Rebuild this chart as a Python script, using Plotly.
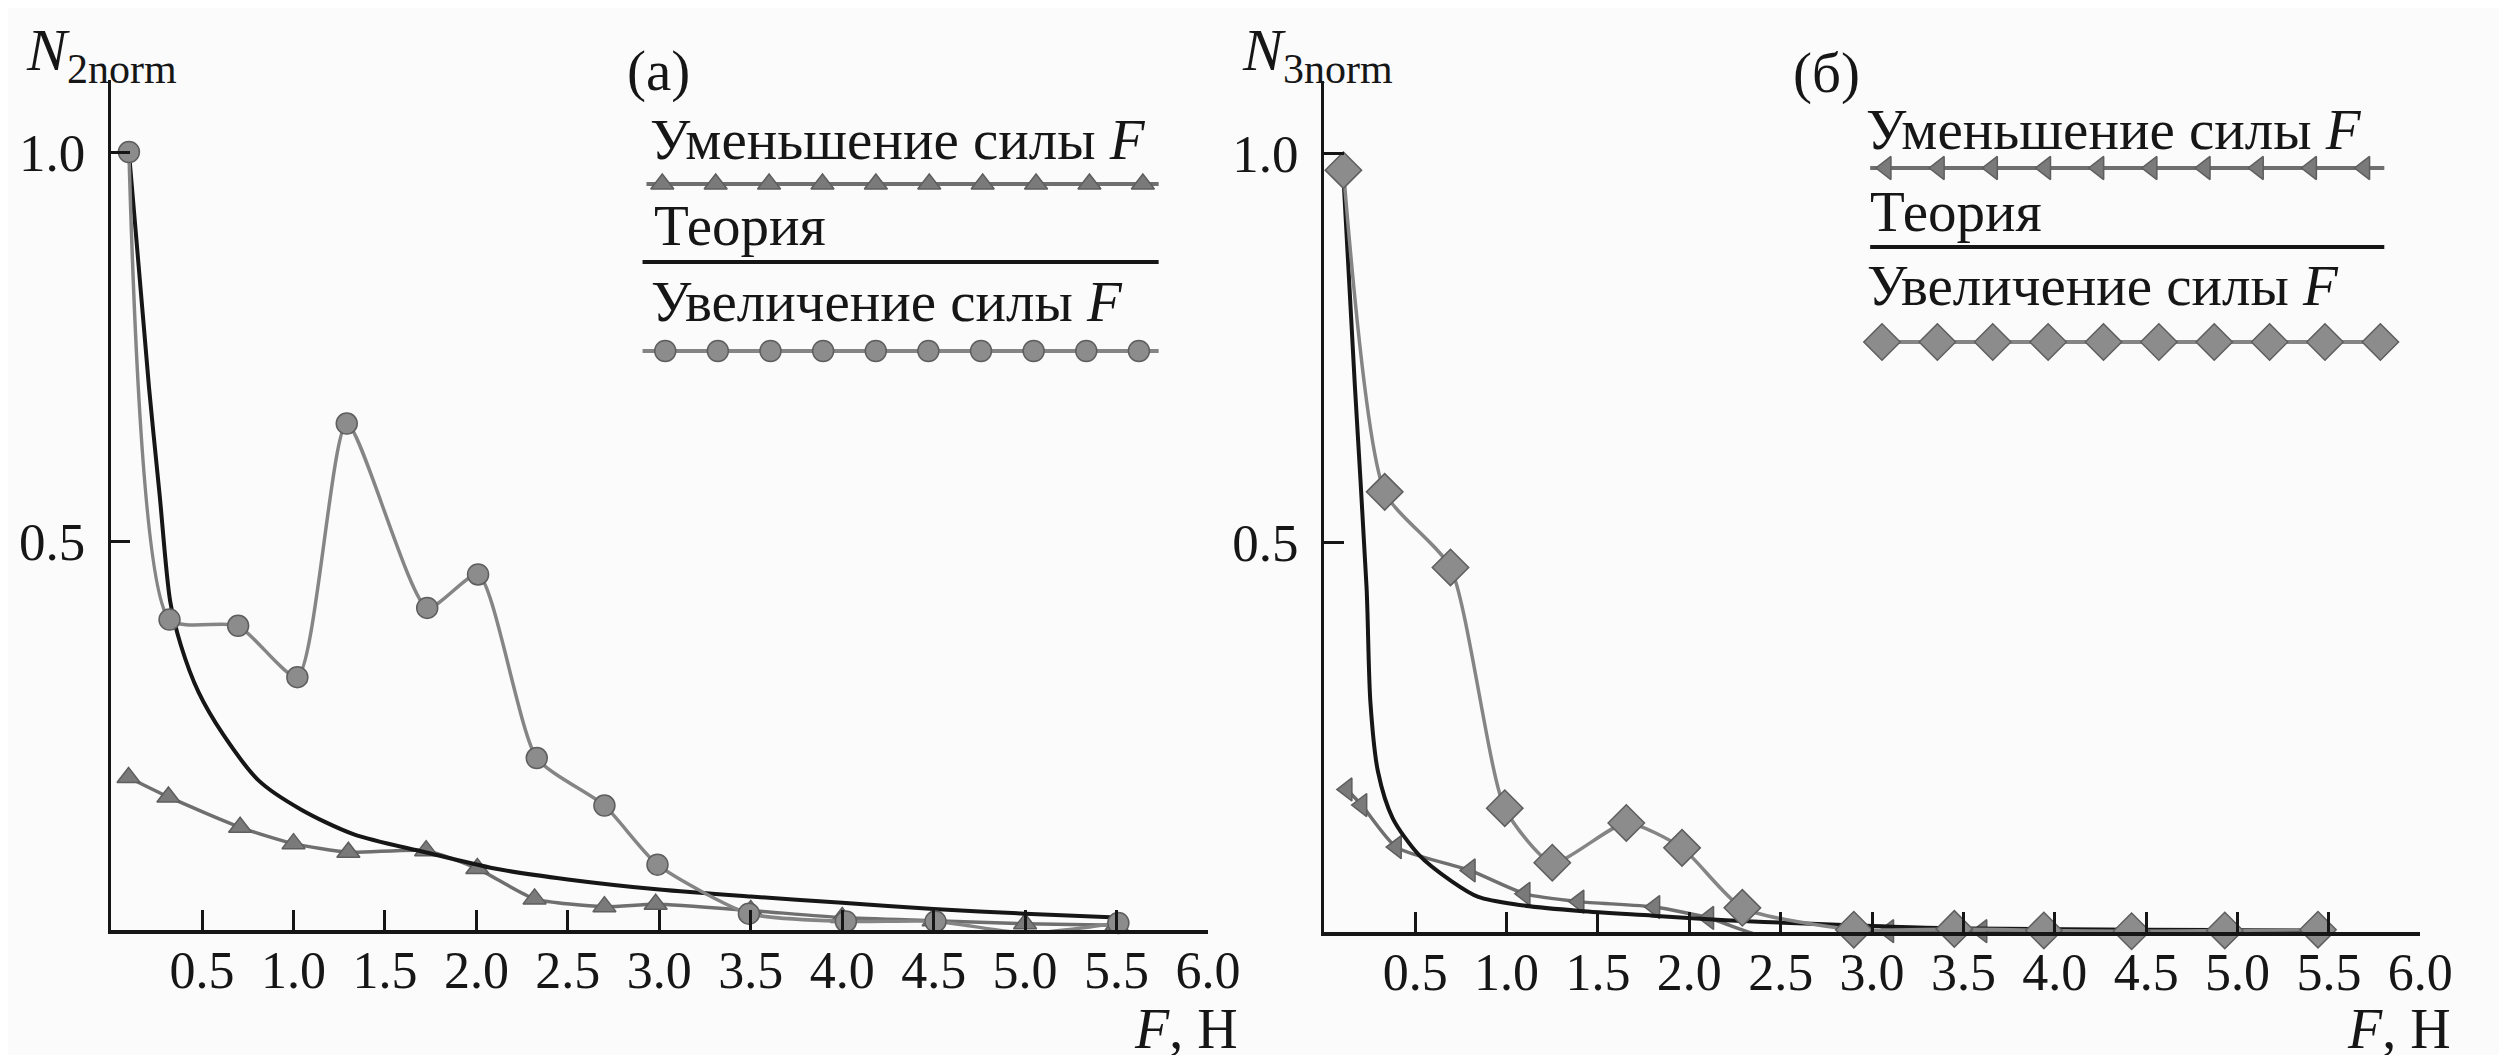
import numpy as np
import plotly.graph_objects as go

# ---------------- data ----------------
# Panel (a): N2norm
a_inc_x = [0.10, 0.322, 0.697, 1.021, 1.291, 1.731, 2.009, 2.33, 2.70, 2.99, 3.49, 4.02, 4.51, 5.01, 5.51]
a_inc_y = [1.00, 0.399, 0.391, 0.325, 0.651, 0.414, 0.457, 0.221, 0.160, 0.084, 0.021, 0.011, 0.011, -0.004, 0.009]

a_dec_x = [0.098, 0.316, 0.708, 1.00, 1.30, 1.725, 2.005, 2.318, 2.70, 2.98, 3.5, 4.0, 4.5, 5.0, 5.5]
a_dec_y = [0.196, 0.171, 0.132, 0.111, 0.100, 0.102, 0.079, 0.040, 0.030, 0.033, 0.025, 0.016, 0.012, 0.008, 0.006]

a_th_x = [0.10, 0.21, 0.268, 0.326, 0.384, 0.48, 0.616, 0.81, 1.04, 1.33, 1.72, 2.10, 2.50, 3.0, 3.5, 4.0, 4.5, 5.0, 5.5]
a_th_y = [1.00, 0.697, 0.559, 0.422, 0.366, 0.306, 0.251, 0.192, 0.155, 0.123, 0.100, 0.079, 0.065, 0.052, 0.043, 0.035, 0.027, 0.021, 0.016]

# Panel (б): N3norm
b_inc_x = [0.107, 0.333, 0.693, 0.99, 1.25, 1.655, 1.96, 2.29, 2.90, 3.45, 3.94, 4.42, 4.93, 5.44]
b_inc_y = [0.978, 0.565, 0.468, 0.159, 0.089, 0.140, 0.108, 0.031, 0.003, 0.004, 0.002, 0.001, 0.002, 0.003]

b_dec_x = [0.126, 0.207, 0.396, 0.80, 1.10, 1.395, 1.81, 2.105, 2.44, 2.78, 3.09, 3.60, 4.05, 4.53]
b_dec_y = [0.183, 0.163, 0.109, 0.079, 0.049, 0.039, 0.032, 0.018, -0.008, -0.003, 0.001, 0.001, -0.001, -0.001]

b_th_x = [0.107, 0.17, 0.234, 0.255, 0.296, 0.377, 0.52, 0.70, 0.845, 1.06, 1.4, 1.8, 2.2, 2.5, 3.4, 4.5, 5.5]
b_th_y = [0.970, 0.700, 0.441, 0.294, 0.206, 0.146, 0.099, 0.065, 0.045, 0.035, 0.027, 0.021, 0.015, 0.012, 0.005, 0.003, 0.002]

x_ticks = [0.5, 1.0, 1.5, 2.0, 2.5, 3.0, 3.5, 4.0, 4.5, 5.0, 5.5, 6.0]
y_ticks = [0.5, 1.0]

# ---------------- styling ----------------
W, H = 2507, 1055
FONT = "Liberation Serif"
INK = "#161616"
GREY_LINE = "#858585"
GREY_DARK = "#6f6f6f"
MK_FILL = "#8c8c8c"
MK_EDGE = "#5e5e5e"

fig = go.Figure()

def series(x, y, xa, ya, symbol, size, lc, mfill):
    fig.add_trace(go.Scatter(
        x=x, y=y, xaxis=xa, yaxis=ya, mode="lines+markers",
        line=dict(color=lc, width=3.5, shape="spline", smoothing=0.6),
        marker=dict(symbol=symbol, size=size, color=mfill, line=dict(color=MK_EDGE, width=1.5)),
        cliponaxis=False, showlegend=False, hoverinfo="skip"))

def theory(x, y, xa, ya):
    fig.add_trace(go.Scatter(
        x=x, y=y, xaxis=xa, yaxis=ya, mode="lines",
        line=dict(color=INK, width=4, shape="spline", smoothing=0.8),
        cliponaxis=False, showlegend=False, hoverinfo="skip"))

# panel (a)
series(a_dec_x, a_dec_y, "x", "y", "triangle-up", 20, GREY_DARK, "#7a7a7a")
theory(a_th_x, a_th_y, "x", "y")
series(a_inc_x, a_inc_y, "x", "y", "circle", 21, GREY_LINE, MK_FILL)
# panel (б)
series(b_dec_x, b_dec_y, "x2", "y2", "triangle-left", 20, GREY_DARK, "#7a7a7a")
theory(b_th_x, b_th_y, "x2", "y2")
series(b_inc_x, b_inc_y, "x2", "y2", "diamond", 28, GREY_LINE, MK_FILL)

# ---------------- custom legends (pixel overlay axis) ----------------
def leg_line(x0, x1, y, color, width, symbol=None, size=0, m0=None, m1=None, mfill=None):
    fig.add_trace(go.Scatter(x=[x0, x1], y=[y, y], xaxis="x3", yaxis="y3", mode="lines",
                             line=dict(color=color, width=width), showlegend=False, hoverinfo="skip"))
    if symbol:
        xs = np.linspace(m0, m1, 10)
        fig.add_trace(go.Scatter(x=xs, y=[y] * 10, xaxis="x3", yaxis="y3", mode="markers",
                                 marker=dict(symbol=symbol, size=size, color=mfill,
                                             line=dict(color=MK_EDGE, width=1.5)),
                                 showlegend=False, hoverinfo="skip"))

leg_line(647, 1166, 176, GREY_DARK, 4, "triangle-up", 20, 663, 1150, "#7a7a7a")
leg_line(643, 1166, 254, INK, 4)
leg_line(643, 1166, 343, GREY_LINE, 4, "circle", 21, 666, 1146, MK_FILL)

leg_line(1887, 2408, 160, GREY_DARK, 4, "triangle-left", 20, 1903, 2388, "#7a7a7a")
leg_line(1887, 2408, 239, INK, 4)
leg_line(1891, 2416, 334, GREY_LINE, 4, "diamond", 28, 1899, 2404, MK_FILL)

ann = []
def txt(x, y, s, size=57, xanchor="left", yanchor="middle"):
    ann.append(dict(x=x, y=y, xref="x3", yref="y3", text=s, showarrow=False,
                    xanchor=xanchor, yanchor=yanchor,
                    font=dict(family=FONT, size=size, color=INK)))

txt(649, 131, "Уменьшение силы <i>F</i>")
txt(653, 217, "Теория")
txt(650, 293, "Увеличение силы <i>F</i>")
txt(1881, 121, "Уменьшение силы <i>F</i>")
txt(1885, 203, "Теория")
txt(1882, 277, "Увеличение силы <i>F</i>")

txt(659, 63, "(а)", xanchor="center")
txt(1843, 65, "(б)", xanchor="center")

txt(16, 46, "<i>N</i><sub>2norm</sub>", size=60)
txt(1248, 46, "<i>N</i><sub>3norm</sub>", size=60)

txt(1248, 1054, "<i>F</i>, Н", size=56, xanchor="right", yanchor="bottom")
txt(2478, 1054, "<i>F</i>, Н", size=56, xanchor="right", yanchor="bottom")

# ---------------- axes ----------------
def xaxis(d0, d1, anchor):
    return dict(domain=[d0 / W, d1 / W], range=[0, 6], anchor=anchor,
                showline=True, linecolor=INK, linewidth=3.5, mirror=False,
                showgrid=False, zeroline=False,
                tickvals=x_ticks, ticktext=[f"{v:.1f}" for v in x_ticks],
                ticks="inside", ticklen=20, tickwidth=2.5, tickcolor=INK,
                ticklabelstandoff=-8,
                tickfont=dict(family=FONT, size=52, color=INK), fixedrange=True)

def yaxis(ptop, y0px, perunit, anchor):
    top_val = (y0px - ptop) / perunit
    return dict(domain=[1 - y0px / H, 1 - ptop / H], range=[0, top_val], anchor=anchor,
                showline=True, linecolor=INK, linewidth=2.5,
                showgrid=False, zeroline=False,
                tickvals=y_ticks, ticktext=[f"{v:.1f}" for v in y_ticks],
                ticks="inside", ticklen=20, tickwidth=2.5, tickcolor=INK,
                ticklabelstandoff=12,
                tickfont=dict(family=FONT, size=53, color=INK), fixedrange=True)

fig.update_layout(
    width=W, height=H, autosize=False,
    margin=dict(l=0, r=0, t=0, b=0),
    paper_bgcolor="#fbfbfb", plot_bgcolor="rgba(0,0,0,0)",
    xaxis=xaxis(104, 1216, "y"),
    yaxis=yaxis(72, 922, 778, "x"),
    xaxis2=xaxis(1333.4, 2444.5, "y2"),
    yaxis2=yaxis(73, 924, 779, "x2"),
    xaxis3=dict(domain=[0, 1], range=[0, W], anchor="y3", visible=False, fixedrange=True),
    yaxis3=dict(domain=[0, 1], range=[H, 0], anchor="x3", visible=False, fixedrange=True),
    annotations=ann,
    showlegend=False,
)

fig.write_html("out.html")
